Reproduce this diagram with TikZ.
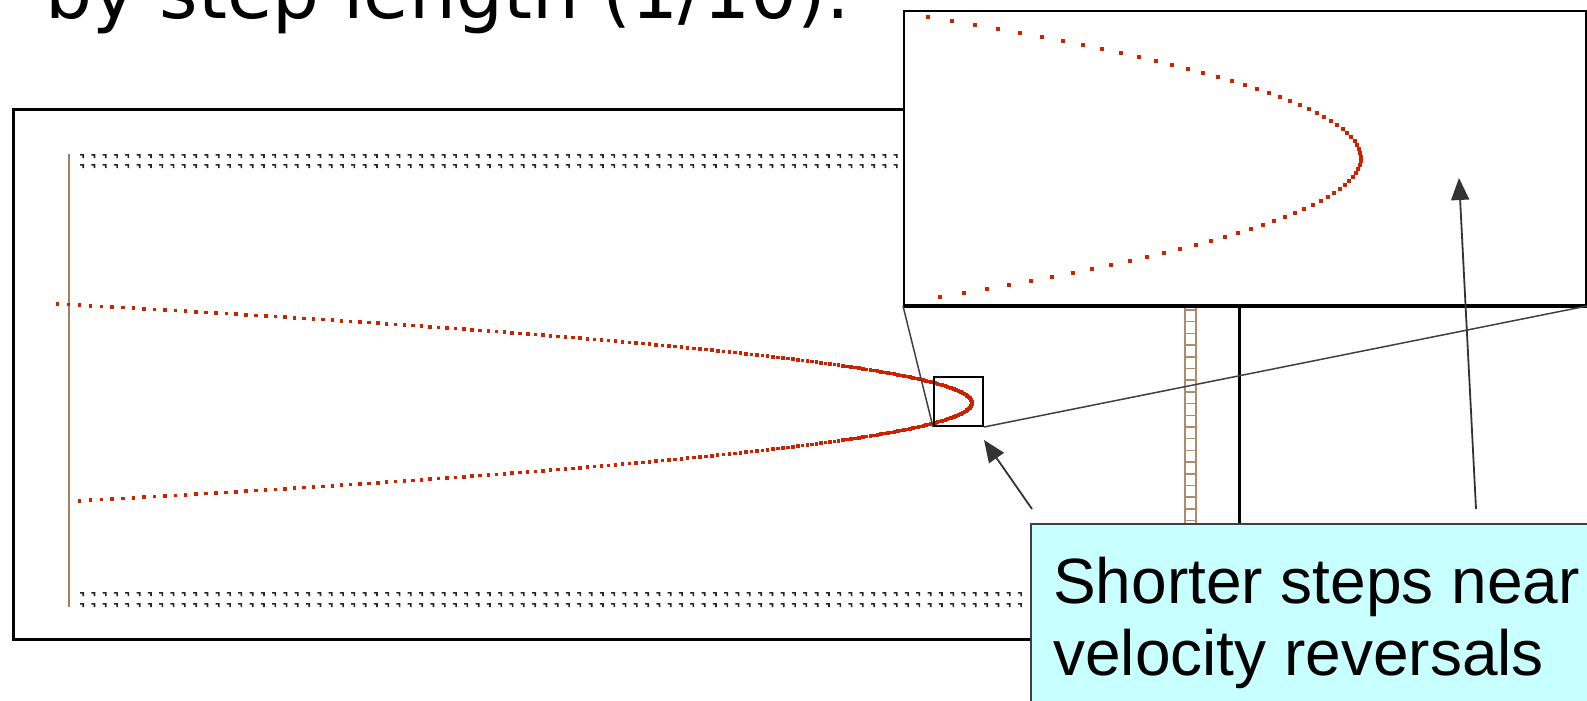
\documentclass[tikz,border=0pt]{standalone}
\usepackage{fontspec}
\setmainfont{Liberation Sans}
\newfontfamily\verd{DejaVu Sans}
\usetikzlibrary{arrows.meta}
\definecolor{traj}{RGB}{204,34,0}
\definecolor{wall}{RGB}{160,128,96}
\definecolor{ladcol}{RGB}{170,140,110}
\definecolor{calloutfill}{RGB}{200,255,255}
\begin{document}
\begin{tikzpicture}[x=1pt,y=-1pt,
  framebox/.style={draw=black, line width=3pt, inner sep=0pt, anchor=north west},
  zoomline/.style={draw=black!75, line width=1.5pt},
  ptr/.style={draw=black!80, line width=1.8pt, -{Triangle[length=22pt,width=18pt]}},
  rowdot/.style={fill=black!85},
  trajdot/.style={fill=traj},
  bigtext/.style={inner sep=0pt, anchor=base west, font=\fontsize{64}{72}\selectfont}
]
\useasboundingbox (0,0) rectangle (1587,701);

% title (cut at top)
\node[inner sep=0pt, anchor=base west, font=\verd\fontsize{74}{80}\selectfont] (title) at (45,19) {by step length (1/10).};

% main frame
\node[framebox, minimum width=1226pt, minimum height=530pt] (frame) at (12,108) {};

% left wall
\draw[wall, line width=2pt] (69,154) -- (69,607);

% dotted rows (small corner marks)
\foreach \r in {156,166,594,605}{
  \foreach \i in {0,...,83}{
    \fill[rowdot] ({82+11.3*\i-2},{\r-2}) -- ++(4,0) -- ++(0,4) -- ++(-1.6,0) -- ++(0,-2.4) -- ++(-2.4,0) -- cycle;
  }
}

% ladder
\draw[ladcol, line width=1.5pt] (1185,304) -- (1185,523) (1196,304) -- (1196,523);
\foreach \i in {0,...,18}{
  \draw[ladcol, line width=1.5pt] (1185,{310+11.7*\i}) -- (1196,{310+11.7*\i});
}

% trajectory in main view
\foreach \i in {0,...,328}{
  \pgfmathsetmacro\u{-99+0.6*\i}
  \pgfmathsetmacro\xx{972-0.0933*(\u)*(\u)-1.75}
  \pgfmathsetmacro\yy{403+(\u)-1.75}
  \fill[trajdot] (\xx,\yy) rectangle ++(3.5,3.5);
}

% magnifier box
\node[draw=black, line width=2pt, inner sep=0pt, anchor=north west, minimum width=49pt, minimum height=49pt] (mag) at (933,376) {};

% inset
\node[draw=black, fill=white, line width=2pt, inner sep=0pt, anchor=north west, minimum width=682pt, minimum height=294pt] (inset) at (903,10) {};
\draw[line width=4pt] (inset.south west) -- (inset.south east);

% zoom lines
\draw[zoomline] (inset.south west) -- (mag.south west);
\draw[zoomline] (mag.south east) -- (inset.south east);

% trajectory in inset
\foreach \i in {0,...,70}{
  \pgfmathsetmacro\u{-141+4*\i}
  \pgfmathsetmacro\xx{1361-0.0218*(\u)*(\u)-2}
  \pgfmathsetmacro\yy{158+(\u)-2}
  \fill[trajdot] (\xx,\yy) rectangle ++(4,4);
}

% pointer arrows
\coordinate (p1) at (1032,509);
\coordinate (t1) at (984,440);
\coordinate (p2) at (1476,509);
\coordinate (t2) at (1459,178);
\draw[ptr] (p1) -- (t1);
\draw[ptr] (p2) -- (t2);

% callout
\node[draw=black!75, line width=2pt, fill=calloutfill, inner sep=0pt, anchor=north west, minimum width=600pt, minimum height=250pt] (callout) at (1030,523) {};
\node[bigtext] (c1) at (1053,603) {Shorter steps near};
\node[bigtext] (c2) at (1053,675) {velocity reversals};
\end{tikzpicture}
\end{document}
